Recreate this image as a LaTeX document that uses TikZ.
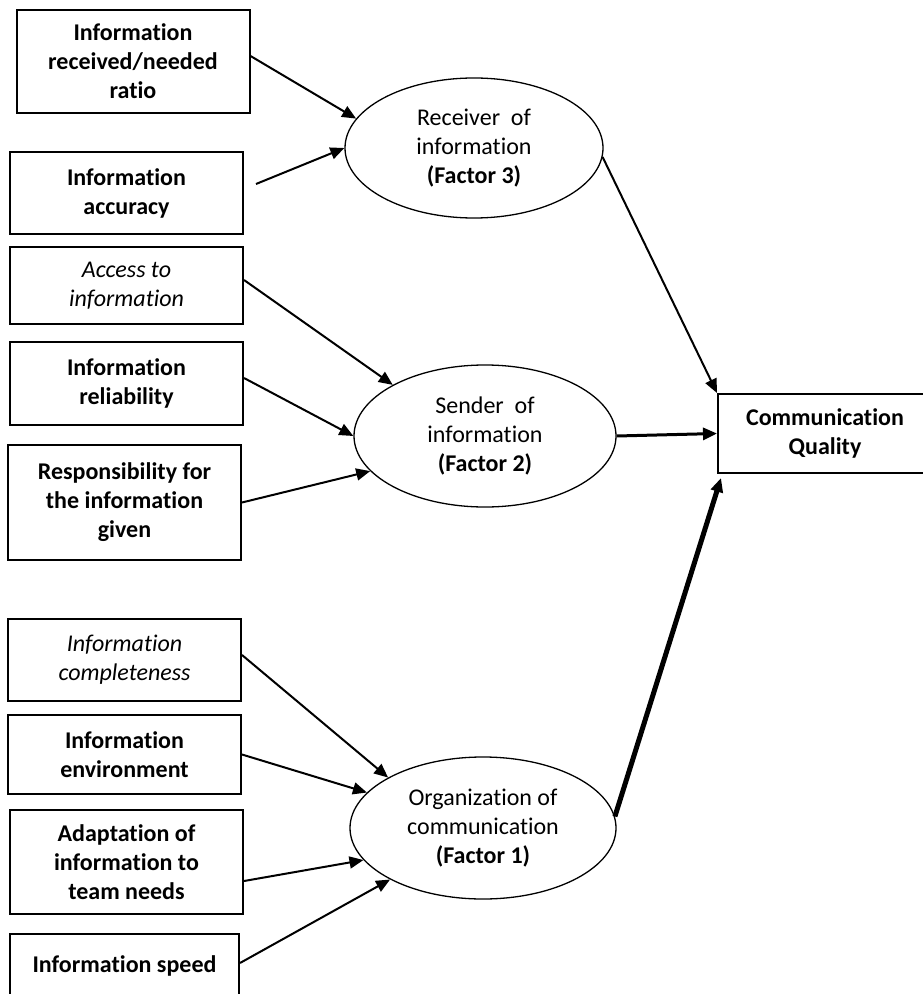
\documentclass[tikz,border=0pt]{standalone}
\usepackage{fontspec}
\setmainfont{Carlito}[Ligatures=NoCommon, Contextuals=NoAlternate]
\usetikzlibrary{shapes.geometric,arrows.meta}

\begin{document}
\begin{tikzpicture}[x=0.5pt, y=-0.5pt,
    item/.style={draw, rectangle, line width=1pt, inner sep=0pt, minimum width=116.5pt, align=center, font=\fontsize{12}{14.5}\selectfont\bfseries},
    itemit/.style={item, font=\fontsize{12}{14.5}\selectfont\itshape},
    factor/.style={draw, ellipse, line width=0.65pt, inner sep=0pt, align=center, font=\fontsize{12}{14.5}\selectfont},
    link/.style={-{Triangle[length=7pt,width=6pt]}, line width=1pt}]
    \useasboundingbox (0,0) rectangle (922,994);
    % indicators
    \node[item, minimum height=51.5pt] (ratio) at (133,61.5) {Information\\received/needed\\ratio};
    \node[item, minimum height=41pt] (accuracy) at (126.5,193) {Information\\accuracy};
    \node[itemit, minimum height=38.5pt] (access) at (126.5,285.5) {Access to\\information};
    \node[item, minimum height=41.5pt] (reliability) at (126.5,383.5) {Information\\reliability};
    \node[item, minimum height=57.5pt] (responsibility) at (124.5,502.5) {Responsibility for\\the information\\given};
    \node[itemit, minimum height=41pt] (completeness) at (124.5,659.5) {Information\\completeness};
    \node[item, minimum height=39.5pt] (environment) at (124.5,754.5) {Information\\environment};
    \node[item, minimum height=52pt] (adaptation) at (126.5,862) {Adaptation of\\information to\\team needs};
    \node[item, minimum width=114.5pt, minimum height=32pt] (speed) at (124.5,966) {Information speed};
    % factors
    \node[factor, minimum width=129pt, minimum height=70pt] (receiver) at (474,148) {Receiver\ \ of\\information\\\textbf{(Factor 3)}};
    \node[factor, minimum width=131pt, minimum height=71pt] (sender) at (485,436) {Sender\ \ of\\information\\\textbf{(Factor 2)}};
    \node[factor, minimum width=133pt, minimum height=71pt] (organization) at (483,828) {Organization of\\communication\\\textbf{(Factor 1)}};
    \node[item, minimum width=107pt, minimum height=39.5pt] (quality) at (825,433.5) {Communication\\Quality};
    % arrows
    \draw[link] ([yshift=2.75pt]ratio.east) -- (receiver.166);
    \draw[link] ([xshift=6pt,yshift=4.5pt]accuracy.east) -- (receiver.west);
    \draw[link] ([yshift=2.75pt]access.east) -- (sender.151);
    \draw[link] ([yshift=2.75pt]reliability.east) -- (sender.west);
    \draw[link] (responsibility.east) -- (sender.197);
    \draw[link] ([yshift=2.25pt]completeness.east) -- (organization.152);
    \draw[link] (environment.east) -- (organization.163);
    \draw[link] ([yshift=-9.5pt]adaptation.east) -- (organization.195);
    \draw[link] ([yshift=1.5pt]speed.east) -- (organization.209);
    \draw[link] (receiver.-4) -- (quality.north west);
    \draw[link, line width=1.5pt] (sender.east) -- (quality.west);
    \draw[link, line width=2.5pt] (organization.5) -- ([xshift=2pt,yshift=-2pt]quality.south west);
\end{tikzpicture}
\end{document}
